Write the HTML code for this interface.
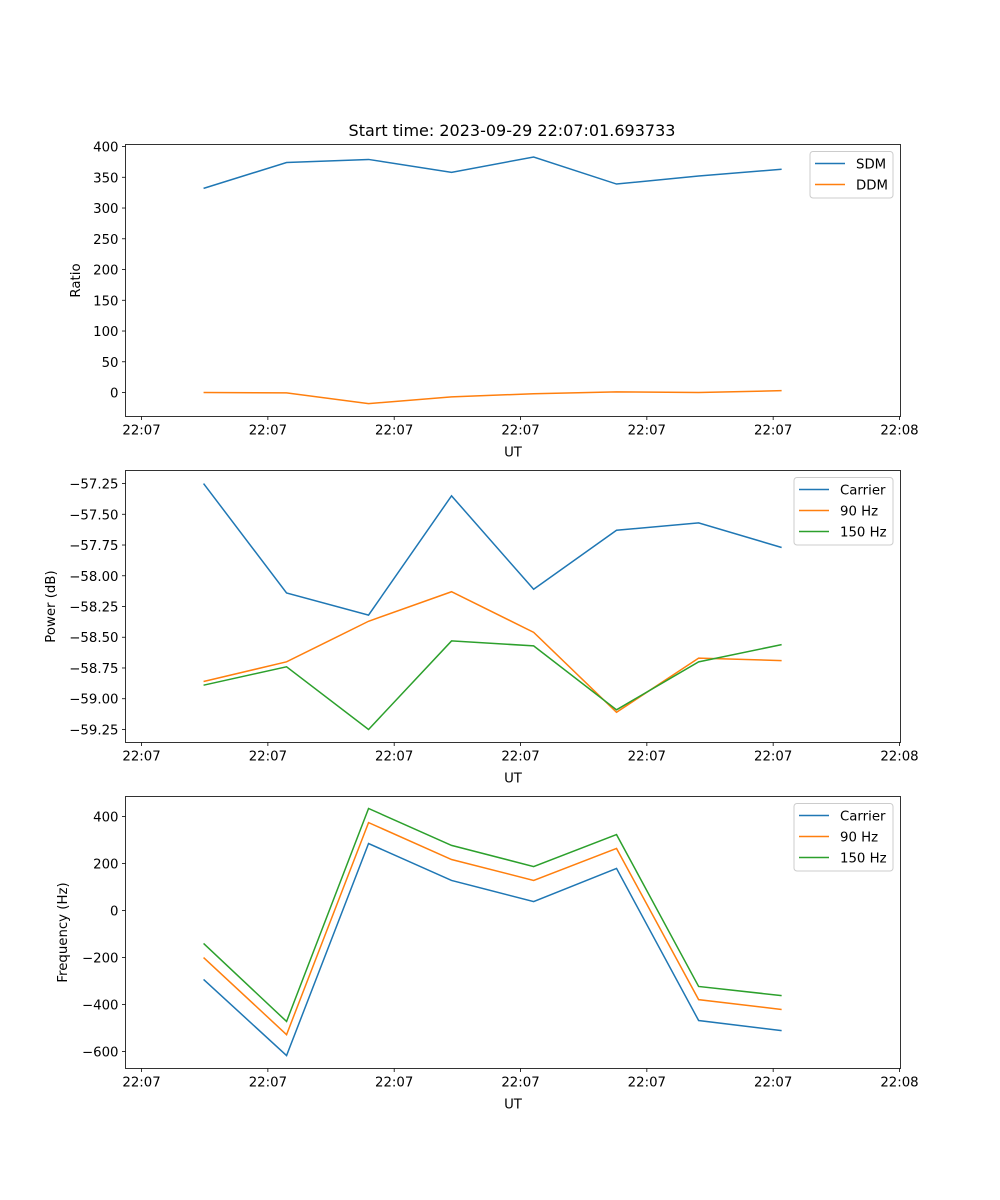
<!DOCTYPE html>
<html><head><meta charset="utf-8"><style>
html,body{margin:0;padding:0;background:#fff;width:1000px;height:1200px;overflow:hidden}
svg text{font-family:"DejaVu Sans","Liberation Sans",sans-serif;fill:#000}
</style></head><body>
<svg id="fig" width="1000" height="1200" xmlns="http://www.w3.org/2000/svg"></svg>
<script>
// ---- data ----
const times = [4.91, 11.48, 17.97, 24.54, 31.04, 37.6, 44.1, 50.67];
const xTickVals = [0, 10, 20, 30, 40, 50, 60];
const xTickLabels = ["22:07","22:07","22:07","22:07","22:07","22:07","22:08"];
const sdm = [332, 374, 379, 358, 383, 339, 352, 363];
const ddm = [0, -0.5, -18, -7, -2, 1, 0, 3];
const powCarrier = [-57.25, -58.14, -58.32, -57.35, -58.11, -57.63, -57.57, -57.77];
const pow90 = [-58.86, -58.70, -58.37, -58.13, -58.46, -59.11, -58.67, -58.69];
const pow150 = [-58.89, -58.74, -59.25, -58.53, -58.57, -59.09, -58.70, -58.56];
const freqCarrier = [-293, -617, 285, 128, 38, 179, -468, -511];
const freq90 = [-200, -528, 374, 217, 128, 264, -379, -421];
const freq150 = [-140, -472, 434, 277, 187, 323, -323, -362];
const ticks1 = [0, 50, 100, 150, 200, 250, 300, 350, 400];
const ticks2 = [-59.25, -59.0, -58.75, -58.5, -58.25, -58.0, -57.75, -57.5, -57.25];
const ticks3 = [-600, -400, -200, 0, 200, 400];

const NS = "http://www.w3.org/2000/svg";
const svg = document.getElementById('fig');
function mk(tag, attrs, parent){const e=document.createElementNS(NS,tag);for(const k in attrs)e.setAttribute(k,attrs[k]);(parent||svg).appendChild(e);return e;}
const L=125.5, R=900.5, xmin=-1.27, xmax=60.08;
const sx = v => L + (v - xmin) / (xmax - xmin) * (R - L);
const fmtMinus = s => String(s).replace('-', '\u2212');

function panel(name, top, bottom, ymin, ymax, ticks, fmt, ylabel, series, legend){
  const g = mk('g', {});
  
  
  const sy = v => bottom - (v - ymin) / (ymax - ymin) * (bottom - top);
  // series
  series.forEach(s=>{
    const p = mk('polyline', {points: times.map((t,i)=>sx(t)+','+sy(s.vals[i])).join(' '), fill:'none', stroke:s.color, 'stroke-width':1.5}, g);
    
    
  });
  // frame
  const fr = mk('rect', {x:L, y:top, width:R-L, height:bottom-top, fill:'none', stroke:'#000', 'stroke-width':0.8}, g);
  
  
  // x ticks
  xTickVals.forEach((v,i)=>{
    const x = sx(v);
    mk('line', {x1:x, x2:x, y1:bottom, y2:bottom+3.5, stroke:'#000', 'stroke-width':0.8}, g);
    const t = mk('text', {x:x, y:bottom+18, 'text-anchor':'middle', 'font-size':13.3}, g);
    t.textContent = xTickLabels[i];
    
    
  });
  const xl = mk('text', {x:(L+R)/2, y:bottom+40, 'text-anchor':'middle', 'font-size':13.3}, g);
  xl.textContent = 'UT';
  
  
  // y ticks
  ticks.forEach(v=>{
    const y = sy(v);
    mk('line', {x1:L-3.5, x2:L, y1:y, y2:y, stroke:'#000', 'stroke-width':0.8}, g);
    const t = mk('text', {x:L-7, y:y+5, 'text-anchor':'end', 'font-size':13.3}, g);
    t.textContent = fmtMinus(fmt(v));
    
    
  });
  const yl = mk('text', {x:0, y:0, 'text-anchor':'middle', 'font-size':13.3, transform:`translate(${legend.ylx},${(top+bottom)/2}) rotate(-90)`}, g);
  yl.textContent = ylabel;
  
  
  // legend
  const lg = mk('g', {}, g);
  
  
  mk('rect', {x:legend.x, y:top+7, width:legend.w, height:series.length*21+4.5, rx:3, fill:'#fff', 'fill-opacity':0.8, stroke:'#ccc', 'stroke-width':1}, lg);
  series.forEach((s,i)=>{
    const y = top + 19 + i*21;
    mk('line', {x1:legend.x+5, x2:legend.x+35, y1:y, y2:y, stroke:s.color, 'stroke-width':1.5}, lg);
    const t = mk('text', {x:legend.x+46, y:y+5, 'font-size':13.3}, lg);
    t.textContent = s.label;
    
    
  });
}

const title = mk('text', {x:512, y:136, 'text-anchor':'middle', 'font-size':16});
title.textContent = 'Start time: 2023-09-29 22:07:01.693733';



panel('ratio', 144.5, 416.5, -39, 403.3, ticks1, v=>v.toString(), 'Ratio',
  [{key:'sdm', label:'SDM', color:'#1f77b4', vals:sdm},{key:'ddm', label:'DDM', color:'#ff7f0e', vals:ddm}],
  {x:810, w:83, ylx:80});
panel('power', 470.5, 742.5, -59.356, -57.144, ticks2, v=>v.toFixed(2), 'Power (dB)',
  [{key:'carrier', label:'Carrier', color:'#1f77b4', vals:powCarrier},{key:'90hz', label:'90 Hz', color:'#ff7f0e', vals:pow90},{key:'150hz', label:'150 Hz', color:'#2ca02c', vals:pow150}],
  {x:794, w:99, ylx:55});
panel('frequency', 796.5, 1068.5, -672, 485, ticks3, v=>v.toString(), 'Frequency (Hz)',
  [{key:'carrier', label:'Carrier', color:'#1f77b4', vals:freqCarrier},{key:'90hz', label:'90 Hz', color:'#ff7f0e', vals:freq90},{key:'150hz', label:'150 Hz', color:'#2ca02c', vals:freq150}],
  {x:794, w:99, ylx:67});
</script>
</body></html>
